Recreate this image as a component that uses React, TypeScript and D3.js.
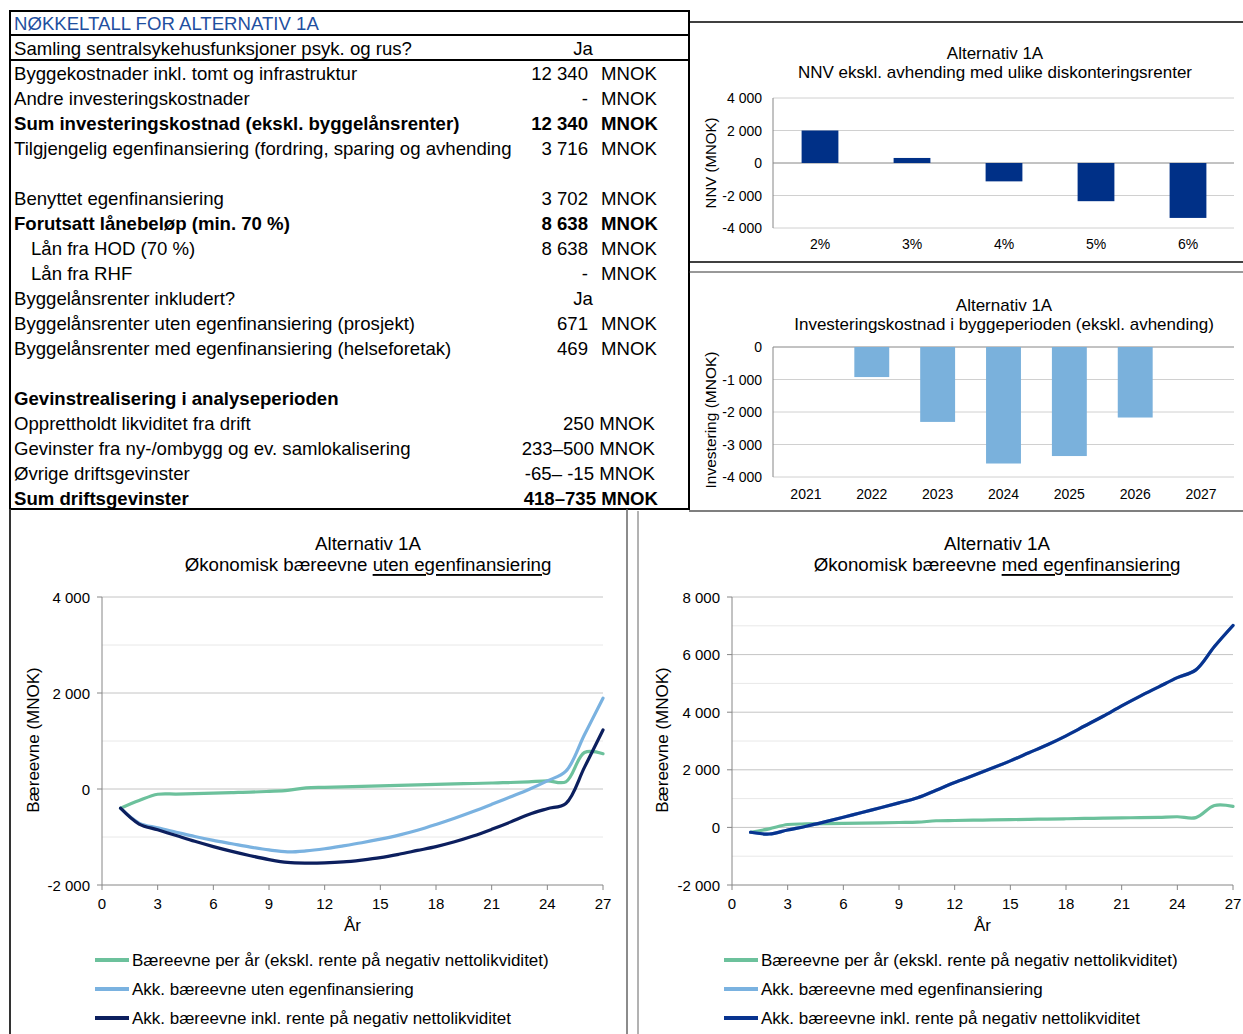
import React from 'react';
import * as d3 from 'd3';

const FONT = '"Liberation Sans", Arial, Helvetica, sans-serif';

// ---------- Table data ----------
const tableTitle = 'NØKKELTALL FOR ALTERNATIV 1A';
const tableLabels = [
  'Samling sentralsykehusfunksjoner psyk. og rus?',
  'Byggekostnader inkl. tomt og infrastruktur',
  'Andre investeringskostnader',
  'Sum investeringskostnad (ekskl. byggelånsrenter)',
  'Tilgjengelig egenfinansiering (fordring, sparing og avhending',
  '',
  'Benyttet egenfinansiering',
  'Forutsatt lånebeløp (min. 70 %)',
  'Lån fra HOD (70 %)',
  'Lån fra RHF',
  'Byggelånsrenter inkludert?',
  'Byggelånsrenter uten egenfinansiering (prosjekt)',
  'Byggelånsrenter med egenfinansiering (helseforetak)',
  '',
  'Gevinstrealisering i analyseperioden',
  'Opprettholdt likviditet fra drift',
  'Gevinster fra ny-/ombygg og ev. samlokalisering',
  'Øvrige driftsgevinster',
  'Sum driftsgevinster',
];
const tableValues = ['Ja', '12 340', '-', '12 340', '3 716', '', '3 702', '8 638', '8 638', '-', 'Ja', '671', '469', '', '', '', '', '', ''];
const tableUnits = ['', 'MNOK', 'MNOK', 'MNOK', 'MNOK', '', 'MNOK', 'MNOK', 'MNOK', 'MNOK', '', 'MNOK', 'MNOK', '', '', '', '', '', ''];
const tableRanges = ['', '', '', '', '', '', '', '', '', '', '', '', '', '', '', '250 MNOK', '233–500 MNOK', '-65– -15 MNOK', '418–735 MNOK'];
const tableBold = [false, false, false, true, false, false, false, true, false, false, false, false, false, false, true, false, false, false, true];
const tableIndent = [false, false, false, false, false, false, false, false, true, true, false, false, false, false, false, false, false, false, false];

// ---------- NNV chart ----------
const nnvTitle = ['Alternativ 1A', 'NNV ekskl. avhending med ulike diskonteringsrenter'];
const nnvRates = ['2%', '3%', '4%', '5%', '6%'];
const nnvValues = [2000, 310, -1130, -2350, -3380];
const nnvTicks = [-4000, -2000, 0, 2000, 4000];

// ---------- Investment chart ----------
const invTitle = ['Alternativ 1A', 'Investeringskostnad i byggeperioden (ekskl. avhending)'];
const invYears = ['2021', '2022', '2023', '2024', '2025', '2026', '2027'];
const invValues = [0, -925, -2305, -3585, -3355, -2170, 0];
const invTicks = [-4000, -3000, -2000, -1000, 0];

// ---------- Bæreevne charts ----------
const years = [1, 2, 3, 4, 5, 6, 7, 8, 9, 10, 11, 12, 13, 14, 15, 16, 17, 18, 19, 20, 21, 22, 23, 24, 25, 26, 27];
const xTicks = [0, 3, 6, 9, 12, 15, 18, 21, 24, 27];

const leftPerYear = [-400, -240, -110, -105, -95, -85, -75, -65, -50, -30, 25, 35, 45, 55, 65, 75, 85, 95, 105, 115, 125, 135, 150, 170, 150, 760, 735];
const leftAkkUten = [-400, -710, -810, -900, -990, -1070, -1140, -1210, -1270, -1310, -1290, -1245, -1185, -1120, -1045, -960, -860, -740, -610, -470, -320, -165, -10, 170, 370, 1130, 1890];
const leftAkkInkl = [-400, -730, -850, -970, -1090, -1200, -1300, -1390, -1470, -1530, -1545, -1540, -1520, -1480, -1430, -1360, -1280, -1200, -1100, -980, -840, -690, -530, -410, -300, 450, 1230];

const rightPerYear = [-170, -50, 100, 120, 130, 140, 150, 160, 170, 180, 230, 240, 250, 260, 270, 280, 290, 300, 310, 320, 330, 340, 350, 370, 340, 760, 730];
const rightAkkMed = [-170, -230, -90, 40, 190, 350, 520, 680, 850, 1030, 1290, 1560, 1800, 2050, 2310, 2590, 2870, 3180, 3520, 3860, 4220, 4560, 4880, 5200, 5470, 6280, 7010];
const rightAkkInkl = [-170, -230, -90, 40, 190, 350, 520, 680, 850, 1030, 1290, 1560, 1800, 2050, 2310, 2590, 2870, 3180, 3520, 3860, 4220, 4560, 4880, 5200, 5470, 6280, 7010];

const leftTicks = [-2000, 0, 2000, 4000];
const leftMinor = [-1000, 1000, 3000];
const rightTicks = [-2000, 0, 2000, 4000, 6000, 8000];
const rightMinor = [-1000, 1000, 3000, 5000, 7000];

const leftLegend = ['Bæreevne per år (ekskl. rente på negativ nettolikviditet)', 'Akk. bæreevne uten egenfinansiering', 'Akk. bæreevne inkl. rente på negativ nettolikviditet'];
const rightLegend = ['Bæreevne per år (ekskl. rente på negativ nettolikviditet)', 'Akk. bæreevne med egenfinansiering', 'Akk. bæreevne inkl. rente på negativ nettolikviditet'];

const GREEN = '#6CC19C';
const LIGHT = '#7AB2E0';
const DARK_L = '#0C1F5E';
const DARK_R = '#08338F';

const fmt = (v: number) => {
  const s = d3.format(',')(Math.abs(v)).replace(/,/g, ' ');
  return (v < 0 ? '-' : '') + s;
};

function Table() {
  return (
    <g fontFamily={FONT} fontSize={18.6}>
      <rect x={10} y={11} width={679} height={498} fill="white" stroke="black" strokeWidth={2} />
      <line x1={10} x2={689} y1={35} y2={35} stroke="black" strokeWidth={2} />
      <line x1={10} x2={689} y1={60} y2={60} stroke="black" strokeWidth={2} />
      <text x={14} y={23} dominantBaseline="central" fill="#1F4FA0">{tableTitle}</text>
      {tableLabels.map((lab, i) => {
        const y = 48 + 25 * i;
        const fw = tableBold[i] ? 'bold' : 'normal';
        const val = tableValues[i];
        return (
          <g key={i} fontWeight={fw}>
            <text x={tableIndent[i] ? 31 : 14} y={y} dominantBaseline="central">{lab}</text>
            {val === 'Ja' ? (
              <text x={583} y={y} textAnchor="middle" dominantBaseline="central">{val}</text>
            ) : val ? (
              <text x={588} y={y} textAnchor="end" dominantBaseline="central">{val}</text>
            ) : null}
            {tableUnits[i] ? <text x={601} y={y} dominantBaseline="central">{tableUnits[i]}</text> : null}
            {tableRanges[i] ? (
              <text x={tableBold[i] ? 658 : 655} y={y} textAnchor="end" dominantBaseline="central">{tableRanges[i]}</text>
            ) : null}
          </g>
        );
      })}
    </g>
  );
}

function NnvChart() {
  const x = d3.scaleBand<string>().domain(nnvRates).range([774, 1234]).paddingInner(0.6).paddingOuter(0.3);
  const y = d3.scaleLinear().domain([-4000, 4000]).range([228, 98]);
  return (
    <g fontFamily={FONT}>
      <text x={995} y={53} textAnchor="middle" dominantBaseline="central" fontSize={17}>{nnvTitle[0]}</text>
      <text x={995} y={72} textAnchor="middle" dominantBaseline="central" fontSize={17}>{nnvTitle[1]}</text>
      {nnvTicks.map(t => (
        <g key={t}>
          <line x1={773} x2={1234} y1={y(t)} y2={y(t)} stroke={t === 0 ? '#868686' : '#d0d0d0'} strokeWidth={1} />
          <text x={762} y={y(t)} textAnchor="end" dominantBaseline="central" fontSize={14}>{fmt(t)}</text>
        </g>
      ))}
      <line x1={773} x2={773} y1={y(4000)} y2={y(-4000)} stroke="#868686" />
      {nnvRates.map((r, i) => (
        <g key={r}>
          <rect x={x(r)} width={x.bandwidth()} y={y(Math.max(0, nnvValues[i]))} height={Math.abs(y(nnvValues[i]) - y(0))} fill="#003087" />
          <text x={(x(r) as number) + x.bandwidth() / 2} y={244} textAnchor="middle" dominantBaseline="central" fontSize={14}>{r}</text>
        </g>
      ))}
      <text transform={`translate(710,163) rotate(-90)`} textAnchor="middle" dominantBaseline="central" fontSize={15}>NNV (MNOK)</text>
    </g>
  );
}

function InvChart() {
  const x = d3.scaleBand<string>().domain(invYears).range([773, 1234]).paddingInner(0.47).paddingOuter(0.235);
  const y = d3.scaleLinear().domain([-4000, 0]).range([477, 347]);
  return (
    <g fontFamily={FONT}>
      <text x={1004} y={305} textAnchor="middle" dominantBaseline="central" fontSize={17}>{invTitle[0]}</text>
      <text x={1004} y={324} textAnchor="middle" dominantBaseline="central" fontSize={17}>{invTitle[1]}</text>
      {invTicks.map(t => (
        <g key={t}>
          <line x1={773} x2={1234} y1={y(t)} y2={y(t)} stroke={t === 0 ? '#868686' : '#d0d0d0'} strokeWidth={1} />
          <text x={762} y={y(t)} textAnchor="end" dominantBaseline="central" fontSize={14}>{fmt(t)}</text>
        </g>
      ))}
      <line x1={773} x2={773} y1={y(0)} y2={y(-4000)} stroke="#868686" />
      {invYears.map((r, i) => (
        <g key={r}>
          {invValues[i] !== 0 ? (
            <rect x={x(r)} width={x.bandwidth()} y={y(0)} height={y(invValues[i]) - y(0)} fill="#7AB1DC" />
          ) : null}
          <text x={(x(r) as number) + x.bandwidth() / 2} y={494} textAnchor="middle" dominantBaseline="central" fontSize={14}>{r}</text>
        </g>
      ))}
      <text transform={`translate(710,420) rotate(-90)`} textAnchor="middle" dominantBaseline="central" fontSize={15.5}>Investering (MNOK)</text>
    </g>
  );
}

type LineChartProps = {
  x0: number; x1: number; yDomain: [number, number]; ticks: number[]; minor: number[];
  series: { values: number[]; color: string }[];
  legend: string[]; legendColors: string[]; cx: number; underlined: string; legendX: number; yTitleX: number;
};

function LineChart(p: LineChartProps) {
  const x = d3.scaleLinear().domain([0, 27]).range([p.x0, p.x1]);
  const y = d3.scaleLinear().domain(p.yDomain).range([885, 597]);
  const line = d3.line<number>().x((_, i) => x(years[i])).y(d => y(d)).curve(d3.curveCatmullRom.alpha(0.5));
  return (
    <g fontFamily={FONT}>
      <text x={p.cx} y={543} textAnchor="middle" dominantBaseline="central" fontSize={18.7}>Alternativ 1A</text>
      <text x={p.cx} y={564} textAnchor="middle" dominantBaseline="central" fontSize={18.7}>
        Økonomisk bæreevne <tspan textDecoration="underline">{p.underlined}</tspan>
      </text>
      {p.minor.map(t => (
        <line key={'m' + t} x1={p.x0} x2={p.x1} y1={y(t)} y2={y(t)} stroke="#e8e8e8" strokeWidth={1} />
      ))}
      {p.ticks.map(t => (
        <g key={t}>
          <line x1={p.x0} x2={p.x1} y1={y(t)} y2={y(t)} stroke={t === p.yDomain[0] ? '#868686' : '#c4c4c4'} strokeWidth={1} />
          <line x1={p.x0 - 5} x2={p.x0} y1={y(t)} y2={y(t)} stroke="#868686" />
          <text x={p.x0 - 12} y={y(t)} textAnchor="end" dominantBaseline="central" fontSize={15}>{fmt(t)}</text>
        </g>
      ))}
      <line x1={p.x0} x2={p.x0} y1={y(p.yDomain[1])} y2={y(p.yDomain[0])} stroke="#868686" />
      {xTicks.map(t => (
        <g key={t}>
          <line x1={x(t)} x2={x(t)} y1={885} y2={890} stroke="#868686" />
          <text x={x(t)} y={903} textAnchor="middle" dominantBaseline="central" fontSize={15}>{t}</text>
        </g>
      ))}
      <text x={(p.x0 + p.x1) / 2} y={925} textAnchor="middle" dominantBaseline="central" fontSize={17}>År</text>
      <text transform={`translate(${p.yTitleX},740) rotate(-90)`} textAnchor="middle" dominantBaseline="central" fontSize={17}>Bæreevne (MNOK)</text>
      {p.series.map((s, i) => (
        <path key={i} d={line(s.values) || ''} fill="none" stroke={s.color} strokeWidth={3.2} strokeLinejoin="round" strokeLinecap="round" />
      ))}
      {p.legend.map((l, i) => (
        <g key={l}>
          <line x1={p.legendX} x2={p.legendX + 34} y1={960 + 29 * i} y2={960 + 29 * i} stroke={p.legendColors[i]} strokeWidth={4} />
          <text x={p.legendX + 37} y={960 + 29 * i} dominantBaseline="central" fontSize={17}>{l}</text>
        </g>
      ))}
    </g>
  );
}

export default function App() {
  return (
    <svg width={1243} height={1034} style={{ position: 'absolute', left: 0, top: 0, background: 'white' }}>
      <rect x={0} y={0} width={1243} height={1034} fill="white" />
      <Table />
      <line x1={689} x2={1243} y1={22} y2={22} stroke="black" strokeWidth={1.5} />
      <line x1={689} x2={1243} y1={262} y2={262} stroke="black" strokeWidth={1.5} />
      <line x1={689} x2={1243} y1={272} y2={272} stroke="#333" strokeWidth={1} />
      <line x1={689} x2={1243} y1={511} y2={511} stroke="#555" strokeWidth={1.5} />
      <line x1={10} x2={10} y1={509} y2={1034} stroke="#333" strokeWidth={2} />
      <line x1={627} x2={627} y1={509} y2={1034} stroke="#666" strokeWidth={1.5} />
      <line x1={638} x2={638} y1={511} y2={1034} stroke="#666" strokeWidth={1} />
      <NnvChart />
      <InvChart />
      <LineChart
        x0={102} x1={603} yDomain={[-2000, 4000]} ticks={leftTicks} minor={leftMinor}
        series={[{ values: leftPerYear, color: GREEN }, { values: leftAkkUten, color: LIGHT }, { values: leftAkkInkl, color: DARK_L }]}
        legend={leftLegend} legendColors={[GREEN, LIGHT, DARK_L]} cx={368} underlined="uten egenfinansiering" legendX={95} yTitleX={33}
      />
      <LineChart
        x0={732} x1={1233} yDomain={[-2000, 8000]} ticks={rightTicks} minor={rightMinor}
        series={[{ values: rightPerYear, color: GREEN }, { values: rightAkkMed, color: LIGHT }, { values: rightAkkInkl, color: DARK_R }]}
        legend={rightLegend} legendColors={[GREEN, LIGHT, DARK_R]} cx={997} underlined="med egenfinansiering" legendX={724} yTitleX={662}
      />
    </svg>
  );
}
